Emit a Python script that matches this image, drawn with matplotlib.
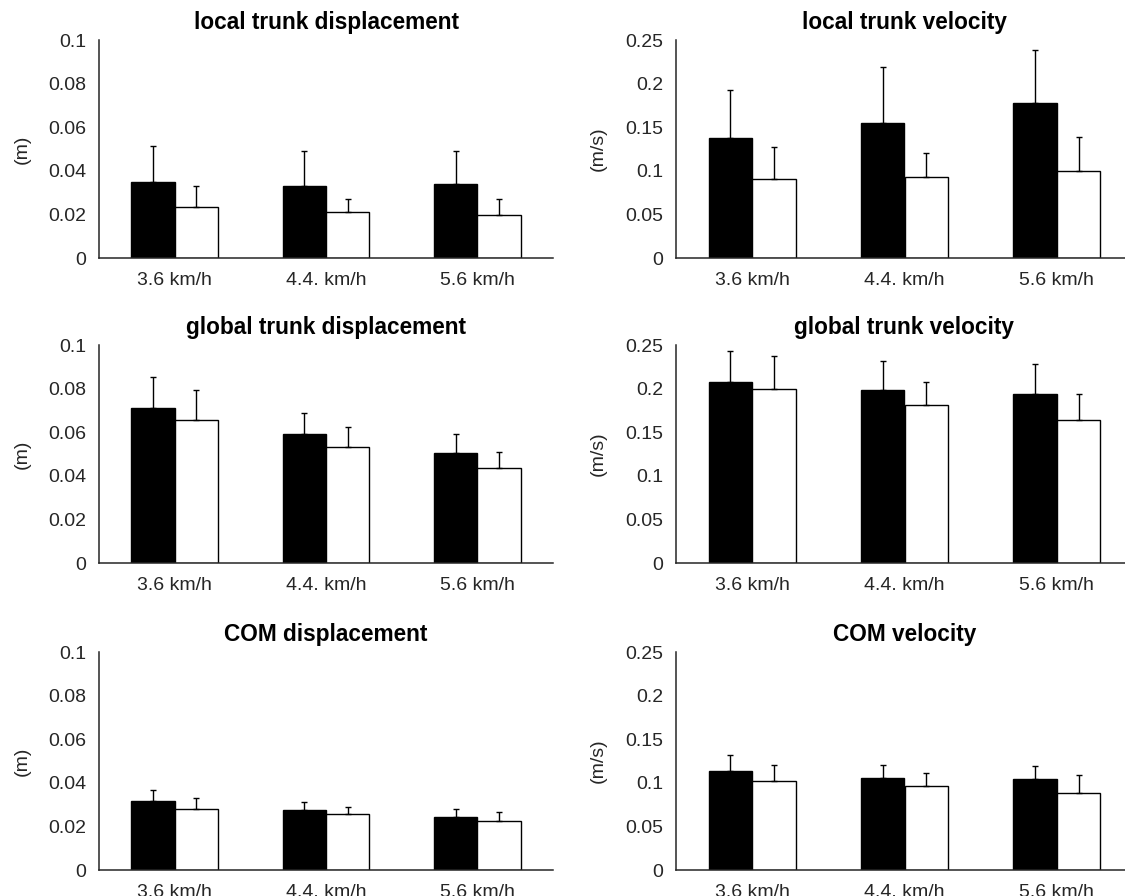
import matplotlib
matplotlib.use("Agg")
import matplotlib.pyplot as plt
from matplotlib.ticker import FuncFormatter
import numpy as np

plt.rcParams['font.family'] = ['Liberation Sans', 'DejaVu Sans']

categories = ["3.6 km/h", "4.4. km/h", "5.6 km/h"]

titles = ["local trunk displacement", "local trunk velocity",
          "global trunk displacement", "global trunk velocity",
          "COM displacement", "COM velocity"]
units = ["(m)", "(m/s)", "(m)", "(m/s)", "(m)", "(m/s)"]

# black bars (mean, sd) and white bars (mean, sd)
local_disp_black = [0.0347, 0.0331, 0.0340]
local_disp_black_sd = [0.0168, 0.0161, 0.0152]
local_disp_white = [0.0234, 0.0211, 0.0195]
local_disp_white_sd = [0.0097, 0.0059, 0.0075]

local_vel_black = [0.138, 0.155, 0.178]
local_vel_black_sd = [0.055, 0.064, 0.0605]
local_vel_white = [0.0909, 0.0928, 0.100]
local_vel_white_sd = [0.036, 0.028, 0.039]

global_disp_black = [0.0709, 0.0594, 0.0504]
global_disp_black_sd = [0.0142, 0.0092, 0.0090]
global_disp_white = [0.0655, 0.0534, 0.0435]
global_disp_white_sd = [0.0138, 0.0092, 0.0076]

global_vel_black = [0.207, 0.198, 0.194]
global_vel_black_sd = [0.036, 0.034, 0.034]
global_vel_white = [0.1995, 0.1807, 0.1639]
global_vel_white_sd = [0.0375, 0.027, 0.030]

com_disp_black = [0.0317, 0.0273, 0.0242]
com_disp_black_sd = [0.0052, 0.0038, 0.0038]
com_disp_white = [0.0280, 0.0257, 0.0227]
com_disp_white_sd = [0.0052, 0.0031, 0.0038]

com_vel_black = [0.1133, 0.1057, 0.1038]
com_vel_black_sd = [0.019, 0.015, 0.015]
com_vel_white = [0.1018, 0.0965, 0.0884]
com_vel_white_sd = [0.019, 0.015, 0.020]

disp_ticks = [0, 0.02, 0.04, 0.06, 0.08, 0.1]
vel_ticks = [0, 0.05, 0.1, 0.15, 0.2, 0.25]

panels = [
    (local_disp_black, local_disp_black_sd, local_disp_white, local_disp_white_sd, disp_ticks),
    (local_vel_black, local_vel_black_sd, local_vel_white, local_vel_white_sd, vel_ticks),
    (global_disp_black, global_disp_black_sd, global_disp_white, global_disp_white_sd, disp_ticks),
    (global_vel_black, global_vel_black_sd, global_vel_white, global_vel_white_sd, vel_ticks),
    (com_disp_black, com_disp_black_sd, com_disp_white, com_disp_white_sd, disp_ticks),
    (com_vel_black, com_vel_black_sd, com_vel_white, com_vel_white_sd, vel_ticks),
]

W, H = 1125, 896
fig = plt.figure(figsize=(W / 100, H / 100), dpi=100)

lefts = [99, 676]
widths = [454, 457]
tops = [40, 345, 652]
height = 218

axcol = '#262626'
bw = 0.286
x = np.arange(1, 4)

for i, (bm, bsd, wm, wsd, ticks) in enumerate(panels):
    r, c = divmod(i, 2)
    ax = fig.add_axes([lefts[c] / W, 1 - (tops[r] + height) / H, widths[c] / W, height / H])
    zeros = [0, 0, 0]
    ax.bar(x - bw / 2, bm, width=bw, color='black', edgecolor='black', linewidth=1.0, zorder=2)
    ax.bar(x + bw / 2, wm, width=bw, color='white', edgecolor='black', linewidth=1.0, zorder=2)
    ax.errorbar(x - bw / 2, bm, yerr=[zeros, bsd], fmt='none', ecolor='black',
                elinewidth=1.0, capsize=2.2, capthick=1.0, zorder=3)
    ax.errorbar(x + bw / 2, wm, yerr=[zeros, wsd], fmt='none', ecolor='black',
                elinewidth=1.0, capsize=2.2, capthick=1.0, zorder=3)
    ax.set_xlim(0.5, 3.5)
    ax.set_ylim(0, ticks[-1])
    ax.set_yticks(ticks)
    ax.yaxis.set_major_formatter(FuncFormatter(lambda v, p: '{:g}'.format(round(v, 4))))
    ax.set_xticks(x)
    ax.set_xticklabels(categories)
    ax.tick_params(axis='both', length=0, labelsize=14, colors=axcol)
    ax.tick_params(axis='y', pad=9)
    ax.tick_params(axis='x', pad=10)
    for s in ['top', 'right']:
        ax.spines[s].set_visible(False)
    for s in ['left', 'bottom']:
        ax.spines[s].set_color(axcol)
        ax.spines[s].set_linewidth(1.1)
    ax.set_title(titles[i], fontsize=16.3, fontweight='bold', pad=8)
    ax.set_ylabel(units[i], fontsize=14, color=axcol)
    ax.yaxis.set_label_coords(-0.151, 0.5)

fig.savefig("out.png", dpi=100)
